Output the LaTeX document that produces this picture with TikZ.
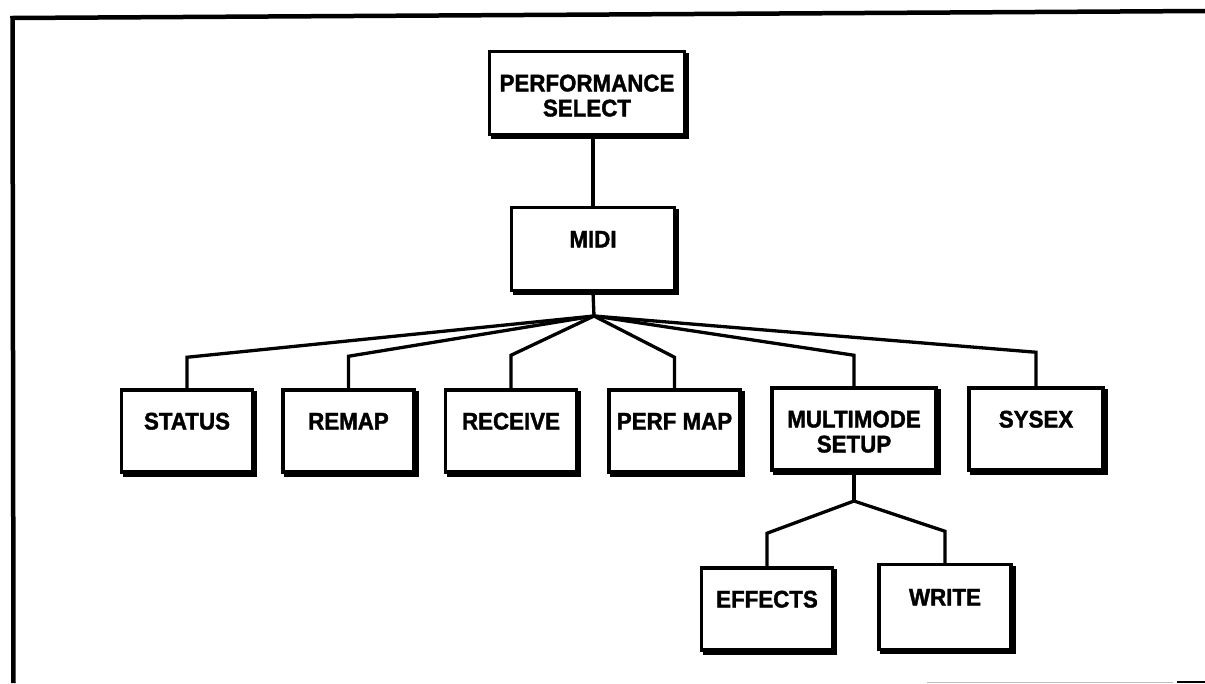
\documentclass[tikz,border=0pt]{standalone}
\usepackage{fontspec}
\setmainfont{Liberation Sans}[FakeStretch=0.93, FakeBold=1.6]
% extra height on the first line lowers the label a little inside its box
\newcommand{\lowerlabel}{\rule{0pt}{22pt}}
\begin{document}
\begin{tikzpicture}[x=1pt,y=-1pt,
  box/.style={draw, line width=3.5pt, fill=white, align=center, inner sep=0pt,
    font=\fontsize{24}{25}\selectfont\bfseries},
  rowbox/.style={box, minimum width=131pt, minimum height=82pt},
  link/.style={line width=3.3pt},
  heavy/.style={line width=3pt},
  frame/.style={line width=4.5pt}]
\useasboundingbox (0,0) rectangle (1205,683);

% outer frame
\draw[frame] (13.5,683) -- (12.5,18) -- (1205,11);
\draw[black!25, line width=1pt] (927,682.5) -- (1173,682.5);
\draw[line width=2pt] (1177,682) -- (1205,682);

% boxes
\node[box, minimum width=195pt, minimum height=83pt] (perf) at (587,93) {\lowerlabel PERFORMANCE\\SELECT};
\node[box, minimum width=163pt, minimum height=83pt] (midi) at (593,249) {\lowerlabel MIDI\\\mbox{}};

\node[rowbox] (status)  at (187,431)   {\lowerlabel STATUS\\\mbox{}};
\node[rowbox] (remap)   at (348.5,431) {\lowerlabel REMAP\\\mbox{}};
\node[rowbox] (receive) at (511,431)   {\lowerlabel RECEIVE\\\mbox{}};
\node[rowbox] (perfmap) at (674.5,431) {\lowerlabel PERF MAP\\\mbox{}};
\node[rowbox, minimum width=164pt] (multimode) at (854,429) {\lowerlabel MULTIMODE\\SETUP};
\node[rowbox, minimum width=134pt] (sysex) at (1036,429) {\lowerlabel SYSEX\\\mbox{}};

\node[rowbox] (effects) at (767,609) {\lowerlabel EFFECTS\\\mbox{}};
\node[rowbox, minimum width=132pt, minimum height=85pt] (write) at (945,607) {\lowerlabel WRITE\\\mbox{}};

% heavier right and bottom edges
\foreach \n in {perf,midi,status,remap,receive,perfmap,multimode,sysex,effects,write}
  \draw[heavy] ([xshift=1.5pt,yshift=-3pt]\n.north east) -- ([xshift=1.5pt,yshift=-1.5pt]\n.south east) -- ([xshift=3pt,yshift=-1.5pt]\n.south west);

% connectors
\coordinate (hub) at (594,316);
\draw[link] (midi.north) -- (midi.north |- perf.south);
\draw[link] (midi.south) -- (hub);
\foreach \n/\d in {status/31, remap/32, receive/33, perfmap/31, multimode/31, sysex/34}
  \draw[link] (hub) -- ([yshift=\d pt]\n.north) -- (\n.north);

\coordinate (hub2) at (854,501);
\draw[link] (multimode.south) -- (hub2);
\draw[link] (hub2) -- ([yshift=33pt]effects.north) -- (effects.north);
\draw[link] (hub2) -- ([yshift=31.5pt]write.north) -- (write.north);
\end{tikzpicture}
\end{document}
